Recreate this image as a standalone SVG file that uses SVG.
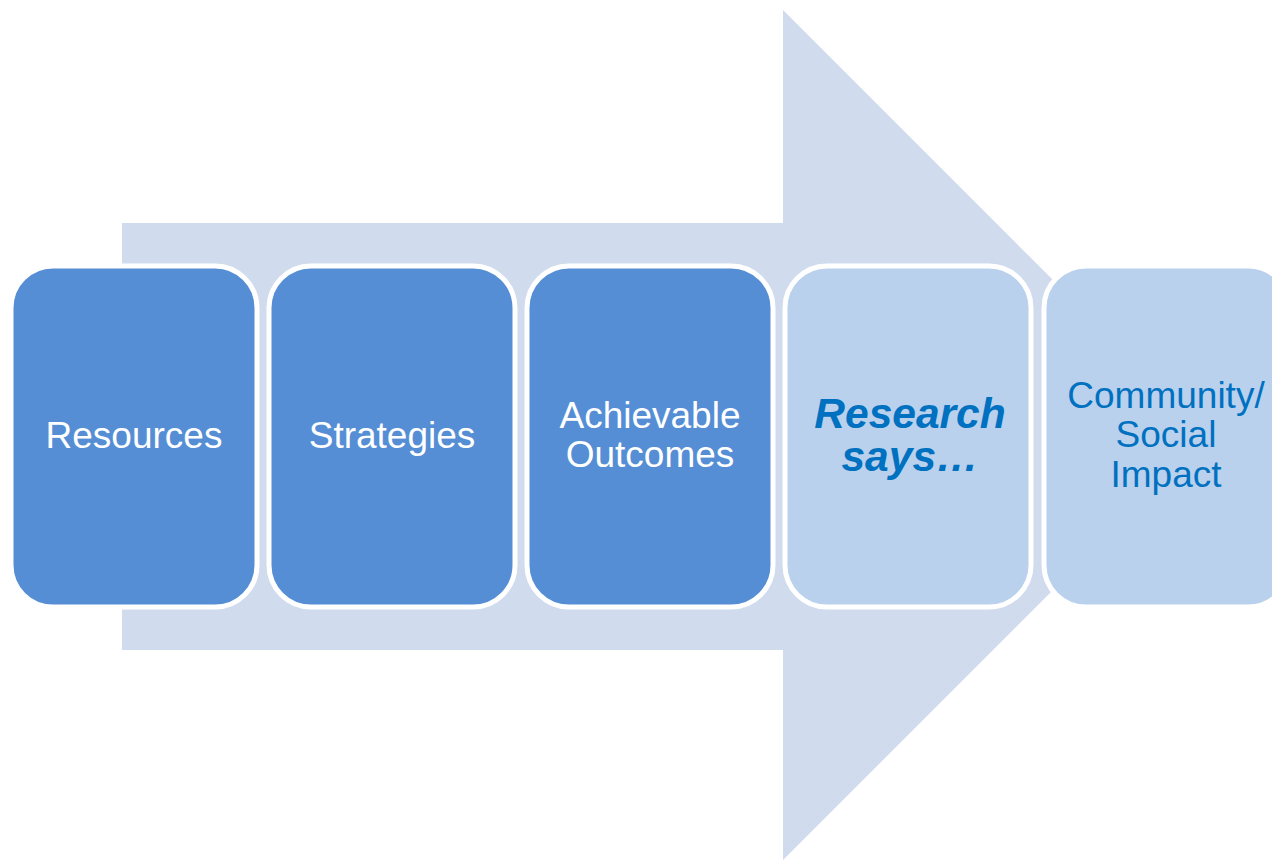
<svg xmlns="http://www.w3.org/2000/svg" width="1272" height="860" viewBox="0 0 1272 860">
  <style>
    .box { stroke: #ffffff; stroke-width: 5; }
    .dark { fill: #558ED5; }
    .light { fill: #B9D1EC; }
    .lbl { font-family: "Liberation Sans", Arial, sans-serif; font-size: 37px; text-anchor: middle; }
    .em { font-size: 42.5px; font-weight: bold; font-style: italic; }
    .w { fill: #ffffff; }
    .b { fill: #0070C0; }
  </style>
  <rect width="1272" height="860" fill="#ffffff"/>
  <!-- background block arrow -->
  <g id="arrow">
    <polygon points="122,223 783,223 783,10 1208,435 783,860 783,650 122,650" fill="#D0DCEE"/>
  </g>
  <g id="connectors"/>
  <g id="node-resources">
    <rect class="box dark" x="11" y="266" width="246" height="341" rx="42"/>
    <text class="lbl w" x="134" y="448">Resources</text>
  </g>
  <g id="node-strategies">
    <rect class="box dark" x="269" y="266" width="246" height="341" rx="42"/>
    <text class="lbl w" x="392" y="448">Strategies</text>
  </g>
  <g id="node-outcomes">
    <rect class="box dark" x="527" y="266" width="246" height="341" rx="42"/>
    <text class="lbl w" x="650" y="428">Achievable</text>
    <text class="lbl w" x="650" y="467">Outcomes</text>
  </g>
  <g id="node-research">
    <rect class="box light" x="785" y="266" width="246" height="341" rx="42"/>
    <text class="lbl b em" x="910" y="428">Research</text>
    <text class="lbl b em" x="910" y="471">says…</text>
  </g>
  <g id="node-impact">
    <rect class="box light" x="1044" y="266" width="246" height="341" rx="42"/>
    <text class="lbl b" x="1166" y="408">Community/</text>
    <text class="lbl b" x="1166" y="447">Social</text>
    <text class="lbl b" x="1166" y="487">Impact</text>
  </g>
</svg>
